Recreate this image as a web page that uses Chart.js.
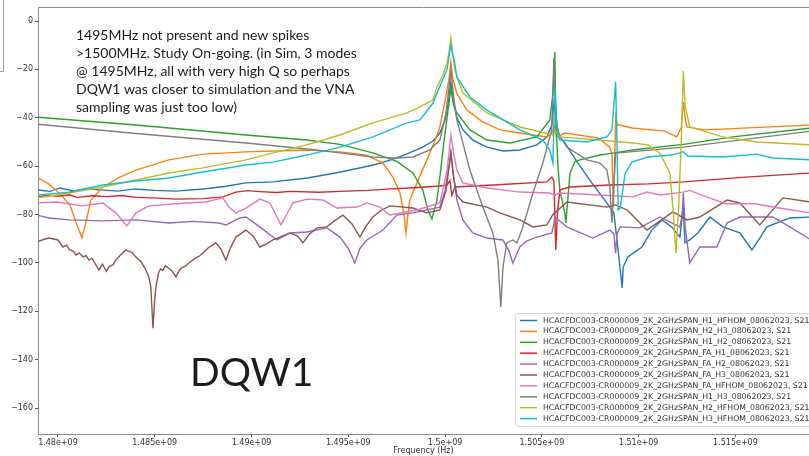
<!DOCTYPE html>
<html>
<head>
<meta charset="utf-8">
<script src="https://cdn.jsdelivr.net/npm/chart.js@4.4.1/dist/chart.umd.min.js"></script>
<style>
html, body { margin: 0; padding: 0; background: #fff; overflow: hidden; }
#wrap { width: 809px; height: 456px; position: relative; }
</style>
</head>
<body>
<div id="wrap"><canvas id="myChart" width="809" height="456"></canvas></div>
<script>
// frequency in MHz, S21 in dB
var xTicks = [1480, 1485, 1490, 1495, 1500, 1505, 1510, 1515];
var xTickLabels = ["1.48e+09", "1.485e+09", "1.49e+09", "1.495e+09", "1.5e+09", "1.505e+09", "1.51e+09", "1.515e+09"];
var yTicks = [0, -20, -40, -60, -80, -100, -120, -140, -160];
var yTickLabels = ["0", "\u221220", "\u221240", "\u221260", "\u221280", "\u2212100", "\u2212120", "\u2212140", "\u2212160"];

var seriesNames = [
  "HCACFDC003-CR000009_2K_2GHzSPAN_H1_HFHOM_08062023, S21",
  "HCACFDC003-CR000009_2K_2GHzSPAN_H2_H3_08062023, S21",
  "HCACFDC003-CR000009_2K_2GHzSPAN_H1_H2_08062023, S21",
  "HCACFDC003-CR000009_2K_2GHzSPAN_FA_H1_08062023, S21",
  "HCACFDC003-CR000009_2K_2GHzSPAN_FA_H2_08062023, S21",
  "HCACFDC003-CR000009_2K_2GHzSPAN_FA_H3_08062023, S21",
  "HCACFDC003-CR000009_2K_2GHzSPAN_FA_HFHOM_08062023, S21",
  "HCACFDC003-CR000009_2K_2GHzSPAN_H1_H3_08062023, S21",
  "HCACFDC003-CR000009_2K_2GHzSPAN_H2_HFHOM_08062023, S21",
  "HCACFDC003-CR000009_2K_2GHzSPAN_H3_HFHOM_08062023, S21"
];
var seriesColors = ["#1f77b4", "#ff7f0e", "#2ca02c", "#d62728", "#9467bd", "#8c564b", "#e377c2", "#7f7f7f", "#bcbd22", "#17becf"];

var h1Hfhom = [[1478.9,-69.8],[1479.6,-70.4],[1480.1,-69.0],[1480.8,-70.2],[1481.5,-69.3],[1482.2,-69.8],[1483.1,-70.3],[1484.0,-69.4],[1485.0,-70.0],[1486.1,-70.3],[1487.5,-69.4],[1488.6,-68.4],[1489.7,-66.9],[1491.1,-66.5],[1492.9,-64.9],[1494.6,-62.4],[1496.3,-59.5],[1497.2,-57.4],[1498.0,-55.0],[1498.85,-52.1],[1499.37,-49.6],[1499.73,-46.3],[1500.0,-40.9],[1500.18,-33],[1500.3,-25.2],[1500.42,-33],[1500.61,-40],[1500.92,-45],[1501.43,-49.2],[1502.16,-52.1],[1503.0,-53.7],[1503.86,-53.3],[1504.74,-51.2],[1505.26,-47.9],[1505.51,-43],[1505.67,-30.6],[1505.77,-43],[1505.93,-47.9],[1506.19,-50.4],[1506.86,-58.7],[1507.58,-66.9],[1508.25,-74.0],[1508.51,-76.9],[1508.72,-79.3],[1508.88,-90.5],[1509.15,-110.3],[1509.2,-101.7],[1509.44,-97.5],[1509.8,-95.5],[1510.17,-93.4],[1510.68,-86.4],[1511.2,-82.2],[1511.71,-85.1],[1512.13,-89.3],[1512.23,-82.2],[1512.31,-76.0],[1512.39,-91.7],[1512.64,-90.5],[1513.06,-87.6],[1513.68,-81.0],[1514.35,-85.1],[1515.23,-87.6],[1515.85,-94.6],[1516.26,-89.7],[1516.62,-85.1],[1517.81,-81.4],[1518.9,-81.0]];

var h2H3 = [[1478.9,-64.6],[1479.5,-67.2],[1479.9,-69.8],[1480.62,-76.0],[1480.93,-83.1],[1481.24,-89.7],[1481.45,-83.1],[1481.7,-74.0],[1482.32,-68.6],[1483.2,-64.5],[1484.03,-61.6],[1485.73,-57.4],[1487.49,-55.0],[1489.71,-54.1],[1492.86,-53.3],[1494.57,-54.1],[1495.96,-55.4],[1496.79,-58.7],[1497.3,-64.5],[1497.67,-71.1],[1497.88,-80],[1497.98,-87.6],[1498.08,-80],[1498.18,-74.0],[1498.54,-67.0],[1499.06,-57.4],[1499.5,-49],[1499.73,-43.8],[1500.0,-33],[1500.2,-24],[1500.3,-16.9],[1500.4,-24],[1500.61,-30],[1501.13,-36.8],[1501.9,-41.5],[1502.83,-45],[1504.02,-46.5],[1505.26,-47.9],[1505.55,-46],[1505.67,-43],[1505.75,-48],[1506.19,-46.3],[1507.89,-48.3],[1508.51,-52.1],[1508.62,-55],[1508.7,-77],[1508.76,-60],[1508.81,-39.7],[1508.9,-43],[1509.05,-43.0],[1509.65,-44.2],[1511.35,-45.5],[1511.97,-47.9],[1512.2,-44],[1512.31,-33.5],[1512.4,-40],[1512.49,-43.8],[1513.42,-45.0],[1518.9,-43.0]];

var h1H2 = [[1478.9,-39.7],[1484.03,-43.0],[1489.71,-47.1],[1492.86,-49.2],[1494.57,-51.0],[1496.27,-54.5],[1497.51,-58.0],[1498.34,-62.8],[1498.85,-70],[1499.11,-78],[1499.32,-81.8],[1499.58,-74.0],[1499.73,-64.5],[1499.94,-50],[1500.1,-40],[1500.3,-27.7],[1500.45,-35],[1500.61,-38],[1501.28,-45.0],[1502.16,-49.2],[1503.35,-50.4],[1504.74,-47.9],[1505.41,-40.9],[1505.57,-30],[1505.67,-12.8],[1505.72,-40],[1505.83,-60],[1505.93,-70],[1506.19,-79.5],[1506.24,-83.5],[1506.45,-63],[1506.71,-58],[1506.96,-57.4],[1508.0,-55.4],[1508.66,-54.6],[1509.7,-53.3],[1512.31,-51.0],[1514.87,-47.9],[1518.9,-44.2]];

var faH1 = [[1478.9,-72.7],[1479.5,-72.0],[1480.0,-72.4],[1480.6,-71.8],[1481.0,-72.9],[1481.8,-72.2],[1482.5,-72.6],[1483.3,-72.1],[1484.03,-72.9],[1485.2,-73.2],[1486.1,-73.6],[1487.5,-73.4],[1488.52,-72.7],[1489.19,-70.7],[1489.8,-70.1],[1490.43,-70.5],[1491.3,-70.9],[1492.0,-70.4],[1493.5,-70.8],[1494.57,-70.4],[1496.0,-70.0],[1497.0,-69.5],[1498.4,-68.9],[1499.73,-68.2],[1500.1,-67.8],[1500.25,-66],[1500.35,-72],[1500.51,-68.6],[1502.5,-67.8],[1505.26,-66.5],[1505.51,-64.5],[1505.62,-66],[1505.72,-94.6],[1505.8,-80],[1505.93,-69.8],[1506.45,-68.6],[1508.51,-67.8],[1510.5,-67.3],[1512.31,-66.5],[1515.5,-64.5],[1518.9,-62.8]];

var faH2 = [[1478.9,-80.2],[1479.54,-81.4],[1480.57,-82.2],[1482.32,-82.6],[1484.03,-82.2],[1485.73,-83.5],[1487.0,-82.8],[1488.32,-83.5],[1488.68,-84.3],[1489.4,-81.4],[1489.71,-81.0],[1490.43,-85.1],[1491.31,-90.5],[1491.98,-87.6],[1492.86,-87.2],[1493.89,-85.5],[1494.57,-89.3],[1495.0,-94],[1495.34,-100.0],[1495.6,-94],[1495.96,-90.5],[1496.79,-86.4],[1497.51,-80.2],[1498.34,-79.3],[1499.73,-76.9],[1500.0,-70],[1500.2,-60],[1500.3,-54.5],[1500.4,-62],[1500.61,-74.0],[1500.92,-82.2],[1501.43,-87.6],[1502.16,-89.7],[1502.99,-90.5],[1503.3,-95],[1503.5,-100.0],[1503.86,-93.4],[1504.2,-91],[1504.74,-89.3],[1505.51,-87.6],[1505.62,-84],[1505.67,-81.0],[1506.29,-85.1],[1507.63,-89.7],[1508.51,-86.4],[1508.72,-88],[1508.81,-96],[1508.88,-88],[1509.05,-85.1],[1510.06,-85.5],[1511.09,-81.0],[1512.13,-85.1],[1512.25,-80],[1512.31,-71.1],[1512.4,-85],[1512.64,-100],[1513.16,-93.4],[1514.04,-93.4],[1514.56,-83.5],[1515.23,-81.0],[1516.93,-81.0],[1517.81,-85.1],[1518.9,-90.5]];

var faH3 = [[1478.9,-91.3],[1479.3,-90.2],[1479.54,-89.7],[1480.0,-90.5],[1480.26,-93.4],[1480.45,-92.6],[1480.6,-94.5],[1480.8,-95.2],[1480.93,-96.7],[1481.1,-95.8],[1481.3,-97.5],[1481.45,-97.0],[1481.6,-98.8],[1481.75,-98.0],[1481.9,-100],[1482.12,-103],[1482.3,-100.5],[1482.5,-103.5],[1482.65,-101.4],[1482.84,-100.8],[1483.0,-98.6],[1483.2,-97],[1483.35,-95.8],[1483.51,-94.6],[1483.65,-95.1],[1483.8,-95.5],[1484.03,-97.5],[1484.3,-99.5],[1484.45,-101.6],[1484.55,-103],[1484.7,-106],[1484.8,-110],[1484.91,-127],[1485.0,-115],[1485.06,-110],[1485.2,-104],[1485.3,-102.5],[1485.42,-103],[1485.55,-101.2],[1485.7,-102],[1485.9,-103.4],[1486.1,-105.8],[1486.25,-103.3],[1486.4,-102],[1486.6,-101.2],[1486.77,-100],[1487.1,-98],[1487.3,-97.2],[1487.49,-95.9],[1487.65,-94.6],[1487.8,-93.5],[1488.0,-92.6],[1488.16,-91.7],[1488.4,-94],[1488.68,-98.8],[1488.9,-94],[1489.19,-89.3],[1489.71,-86.4],[1490.1,-89],[1490.43,-93.4],[1490.8,-92],[1491.11,-90.5],[1491.5,-89.2],[1491.98,-87.6],[1492.4,-89],[1492.66,-91.7],[1493.0,-88],[1493.38,-85.5],[1493.89,-85.1],[1494.3,-82.5],[1494.72,-80.2],[1495.2,-84],[1495.6,-89.3],[1495.9,-85],[1496.27,-81.0],[1496.7,-78.2],[1497.15,-76.4],[1498.34,-77.3],[1499.06,-79.3],[1499.73,-78.1],[1500.05,-70],[1500.3,-54.5],[1500.45,-65],[1500.61,-72.0],[1500.92,-74.8],[1502.16,-76.9],[1502.83,-79.3],[1503.86,-82.2],[1504.54,-85.1],[1505.26,-84.3],[1505.57,-80],[1505.67,-79.3],[1506.29,-74.8],[1508.36,-76.9],[1508.8,-76],[1509.41,-78.1],[1510.43,-86.4],[1511.77,-78.9],[1512.49,-82.2],[1513.16,-81.0],[1514.56,-74.0],[1515.23,-75.2],[1516.26,-84.3],[1517.45,-73.1],[1518.9,-74.8]];

var faHfhom = [[1478.9,-75.2],[1479.9,-74.8],[1481.29,-76.4],[1482.32,-75.2],[1482.99,-79.3],[1483.56,-84.7],[1484.03,-79.3],[1484.7,-76.4],[1486.61,-75.2],[1487.64,-74.8],[1488.52,-73.1],[1488.83,-76.9],[1489.19,-79.3],[1489.71,-77.3],[1490.43,-73.6],[1490.95,-75.2],[1491.52,-84.3],[1492.14,-75.2],[1492.86,-73.6],[1493.69,-74.0],[1494.41,-77.3],[1495.44,-76.9],[1495.96,-75.2],[1496.63,-76.9],[1497.15,-80.2],[1498.54,-78.1],[1499.73,-75.2],[1500.1,-62],[1500.3,-47.1],[1500.45,-55],[1500.61,-61.6],[1500.92,-66.9],[1502.16,-69.0],[1503.86,-70.7],[1505.41,-71.1],[1505.67,-72],[1505.93,-71.1],[1508.0,-71.9],[1509.7,-72.7],[1510.43,-70.7],[1511.09,-71.9],[1512.31,-70.7],[1512.64,-70.0],[1513.5,-72.7],[1514.5,-75.5],[1516.0,-75.5],[1517.4,-77.5],[1518.9,-79.3]];

var h1H3 = [[1478.9,-42.6],[1484.03,-46.5],[1489.71,-50.4],[1492.86,-52.9],[1494.57,-54.5],[1496.27,-56.2],[1497.51,-56.6],[1498.34,-56.2],[1499.21,-53.3],[1499.73,-49.2],[1500.05,-38],[1500.3,-20.2],[1500.45,-32],[1500.61,-40.9],[1501.28,-61.6],[1501.95,-76.9],[1502.47,-87.6],[1502.73,-98.8],[1502.88,-118.2],[1502.99,-101.7],[1503.19,-91.7],[1503.5,-90.5],[1503.71,-91.7],[1504.02,-85.1],[1504.54,-71.1],[1505.05,-58.7],[1505.51,-45.0],[1505.62,-15.3],[1505.72,-40],[1505.83,-46.3],[1506.29,-52.1],[1507.32,-57.4],[1508.0,-58.7],[1508.36,-61.6],[1508.51,-68.6],[1508.62,-83.5],[1508.7,-70],[1508.81,-54.6],[1509.7,-54.0],[1512.31,-52.1],[1518.9,-45.5]];

var h2Hfhom = [[1478.9,-73.1],[1480.57,-71.1],[1482.32,-68.6],[1484.03,-65.7],[1485.73,-62.8],[1487.49,-60.7],[1489.71,-57.4],[1491.11,-54.5],[1492.86,-51.2],[1494.57,-47.1],[1496.27,-42.1],[1498.03,-38.0],[1498.7,-35.5],[1499.37,-32.6],[1499.58,-27.3],[1499.9,-22],[1500.1,-17.4],[1500.22,-12],[1500.3,-7.0],[1500.38,-13],[1500.51,-20.2],[1500.7,-25],[1500.92,-29.8],[1502.16,-38.0],[1503.86,-43.8],[1505.57,-47.1],[1505.67,-45],[1505.93,-47.9],[1508.0,-49.2],[1509.7,-50.4],[1510.48,-51.2],[1511.09,-54.5],[1511.61,-62.8],[1511.8,-80],[1511.92,-95.9],[1512.05,-80],[1512.2,-50],[1512.31,-20.7],[1512.4,-35],[1512.64,-43.8],[1513.16,-45.0],[1514.35,-47.9],[1516.1,-50.0],[1518.9,-51.2]];

var h3Hfhom = [[1478.9,-71.9],[1480.57,-70.7],[1482.32,-67.8],[1484.03,-66.1],[1485.73,-64.9],[1487.49,-62.4],[1489.71,-59.5],[1491.11,-58.3],[1492.86,-55.4],[1494.57,-52.1],[1496.27,-47.9],[1498.03,-42.1],[1498.7,-40.9],[1499.37,-34],[1499.58,-29.8],[1500.1,-20],[1500.3,-9.9],[1500.51,-18],[1500.61,-23.1],[1501.28,-31.4],[1502.16,-36.8],[1503.86,-45.0],[1505.05,-49.2],[1505.41,-53.3],[1505.57,-58.7],[1505.67,-27.3],[1505.75,-40],[1505.83,-47],[1505.93,-49.2],[1507.32,-50.0],[1508.36,-47.9],[1508.62,-45],[1508.81,-25.2],[1508.88,-50],[1508.94,-78.1],[1509.05,-77.3],[1509.3,-63],[1509.65,-58.3],[1510.48,-56.2],[1511.71,-55.4],[1512.31,-54],[1512.54,-55.8],[1514.35,-56.2],[1516.1,-55.0],[1516.93,-56.6],[1518.9,-57.4]];

var allSeries = [h1Hfhom, h2H3, h1H2, faH1, faH2, faH3, faHfhom, h1H3, h2Hfhom, h3Hfhom];

var noteLines = [
  "1495MHz not present and new spikes",
  ">1500MHz. Study On-going. (in Sim, 3 modes",
  "@ 1495MHz, all with very high Q so perhaps",
  "DQW1 was closer to simulation and the VNA",
  "sampling was just too low)"
];
var bigLabel = "DQW1";

var datasets = allSeries.map(function(s, i) {
  return {
    label: seriesNames[i],
    data: s.map(function(p) { return {x: p[0], y: p[1]}; }),
    borderColor: seriesColors[i],
    borderWidth: 1.4,
    pointRadius: 0,
    tension: 0,
    fill: false,
    order: 10 - i
  };
});

var extras = {
  id: 'extras',
  afterDatasetsDraw: function(chart) {
    var ctx = chart.ctx, a = chart.chartArea;
    ctx.save();
    // top spine
    ctx.strokeStyle = '#8a8a8a';
    ctx.lineWidth = 1;
    ctx.beginPath();
    ctx.moveTo(a.left, Math.round(a.top) + 0.5);
    ctx.lineTo(a.right, Math.round(a.top) + 0.5);
    ctx.stroke();

    // legend box, lower right
    var bx = 515.5, by = 313.5, bw = 310, bh = 113;
    ctx.fillStyle = 'rgba(255,255,255,0.85)';
    ctx.strokeStyle = '#d6d6d6';
    ctx.beginPath();
    ctx.roundRect(bx, by, bw, bh, 3);
    ctx.fill();
    ctx.stroke();
    ctx.font = '7.8px "DejaVu Sans"';
    ctx.textBaseline = 'middle';
    ctx.lineWidth = 1.5;
    seriesNames.forEach(function(name, i) {
      var ry = 320.5 + i * 10.9;
      ctx.strokeStyle = seriesColors[i];
      ctx.beginPath();
      ctx.moveTo(520, ry);
      ctx.lineTo(537, ry);
      ctx.stroke();
      ctx.fillStyle = '#333';
      ctx.fillText(name, 543, ry);
    });

    // leftover frame edge at the top left
    ctx.strokeStyle = '#9a9a9a';
    ctx.lineWidth = 1;
    ctx.beginPath();
    ctx.moveTo(3.5, 0);
    ctx.lineTo(3.5, 71.5);
    ctx.lineTo(0, 71.5);
    ctx.stroke();
    ctx.restore();
  },
  afterDraw: function(chart) {
    var ctx = chart.ctx;
    ctx.save();
    ctx.fillStyle = '#1c1c1c';
    ctx.font = '14px Lato';
    ctx.textBaseline = 'middle';
    noteLines.forEach(function(t, i) {
      ctx.fillText(t, 76, 35 + i * 18);
    });
    ctx.font = '39px Lato';
    ctx.textBaseline = 'alphabetic';
    ctx.fillText(bigLabel, 190, 386);
    ctx.restore();
  }
};

new Chart("myChart", {
  type: "line",
  data: { datasets: datasets },
  plugins: [extras],
  options: {
    responsive: false,
    animation: false,
    devicePixelRatio: 1,
    layout: { padding: { top: 7, right: 0, left: 0, bottom: 0 } },
    plugins: { legend: { display: false }, tooltip: { enabled: false } },
    scales: {
      x: {
        type: 'linear',
        min: 1478.97,
        max: 1518.8,
        afterBuildTicks: function(s) { s.ticks = xTicks.map(function(v) { return {value: v}; }); },
        afterFit: function(s) { s.height = 22; },
        ticks: {
          autoSkip: false, maxRotation: 0, padding: 1,
          color: '#333',
          font: { family: 'DejaVu Sans', size: 8 },
          callback: function(v) { var k = xTicks.indexOf(v); return k >= 0 ? xTickLabels[k] : ''; }
        },
        grid: { drawOnChartArea: false, tickLength: 3, color: '#555' },
        border: { color: '#8a8a8a' },
        title: { display: true, text: 'Frequency (Hz)', color: '#333', font: { family: 'DejaVu Sans', size: 8 }, padding: { top: 0, bottom: 0 } }
      },
      y: {
        min: -170.7,
        max: 5.8,
        afterBuildTicks: function(s) { s.ticks = yTicks.map(function(v) { return {value: v}; }); },
        afterFit: function(s) { s.width = 38; },
        ticks: {
          padding: 2,
          color: '#333',
          font: { family: 'DejaVu Sans', size: 8 },
          callback: function(v) { var k = yTicks.indexOf(v); return k >= 0 ? yTickLabels[k] : ''; }
        },
        grid: { drawOnChartArea: false, tickLength: 3, color: '#555' },
        border: { color: '#8a8a8a' }
      }
    }
  }
});
</script>
</body>
</html>
